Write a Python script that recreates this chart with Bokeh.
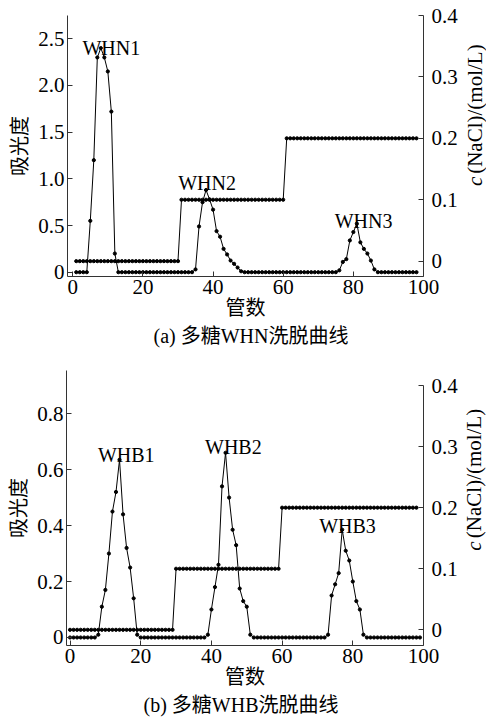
import math
from bokeh.plotting import figure
from bokeh.models import (Range1d, LinearAxis, FixedTicker, Title, ColumnDataSource,
                          PrintfTickFormatter)
from bokeh.layouts import column, row
from bokeh.embed import file_html
from bokeh.resources import INLINE
from bokeh.core.properties import value

# ---------------- data: (a) WHN ----------------
tubes_a = list(range(1, 99))
abs_whn = [
    0, 0, 0, 0,
    0.55, 1.20, 2.30, 2.40, 2.30, 2.15, 1.72, 0.20,
    0, 0, 0, 0, 0, 0, 0, 0, 0, 0, 0, 0, 0, 0, 0, 0, 0, 0, 0, 0, 0, 0,
    0.03, 0.49, 0.75, 0.88, 0.78, 0.67, 0.44, 0.38, 0.25, 0.19, 0.125, 0.09, 0.05, 0.01,
    0, 0, 0, 0, 0, 0, 0, 0, 0, 0, 0, 0, 0, 0, 0, 0, 0, 0, 0, 0, 0, 0, 0, 0, 0, 0, 0,
    0.02, 0.11, 0.14, 0.34, 0.43, 0.52, 0.32, 0.25, 0.20, 0.125, 0.03,
    0, 0, 0, 0, 0, 0, 0, 0, 0, 0, 0, 0,
]
nacl_a = [0.0] * 30 + [0.1] * 30 + [0.2] * 38
peaks_a = ["WHN1", "WHN2", "WHN3"]
peaks_a_tube = [11.0, 38.3, 82.9]
peaks_a_abs = [2.405, 0.953, 0.553]
abs_ticks_a = [0, 0.5, 1.0, 1.5, 2.0, 2.5]

# ---------------- data: (b) WHB ----------------
tubes_b = list(range(0, 100))
abs_whb = [
    0, 0, 0, 0, 0, 0, 0, 0,
    0.01, 0.11, 0.17, 0.30, 0.45, 0.52, 0.635, 0.44, 0.32, 0.25, 0.14, 0.01,
    0, 0, 0, 0, 0, 0, 0, 0, 0, 0, 0, 0, 0, 0, 0, 0, 0, 0, 0,
    0.01, 0.10, 0.18, 0.26, 0.54, 0.66, 0.50, 0.385, 0.33, 0.175, 0.13, 0.11, 0.01,
    0, 0, 0, 0, 0, 0, 0, 0, 0, 0, 0, 0, 0, 0, 0, 0, 0, 0, 0, 0, 0,
    0.01, 0.15, 0.19, 0.23, 0.385, 0.31, 0.275, 0.20, 0.13, 0.10, 0.01,
    0, 0, 0, 0, 0, 0, 0, 0, 0, 0, 0, 0, 0, 0, 0, 0,
]
tubes_b_nacl = list(range(0, 99))
nacl_b = [0.0] * 30 + [0.1] * 30 + [0.2] * 39
peaks_b = ["WHB1", "WHB2", "WHB3"]
peaks_b_tube = [15.9, 46.2, 78.5]
peaks_b_abs = [0.6525, 0.68, 0.40]
abs_ticks_b = [0, 0.2, 0.4, 0.6, 0.8]

x_ticks = [0, 20, 40, 60, 80, 100]
nacl_ticks = [0, 0.1, 0.2, 0.3, 0.4]
nacl_label_parts = ["c", "(NaCl)/(mol/L)"]
nacl_label_styles = ["italic", "normal"]

SERIF = "Liberation Serif"
MIXED = "'Liberation Serif', 'Noto Sans CJK SC'"
AX_COLOR = "#333333"
RLABEL_SIZE = 21
MAIN_W = 460
SIDE_W = 486 - MAIN_W


def style_axis(ax):
    ax.axis_line_color = AX_COLOR
    ax.axis_line_width = 1
    ax.major_tick_line_color = AX_COLOR
    ax.major_tick_in = 5
    ax.major_tick_out = 0
    ax.minor_tick_line_color = None
    ax.major_label_text_font = SERIF
    ax.major_label_text_font_size = "21px"
    ax.major_label_text_color = "black"
    ax.axis_label_text_color = "black"
    ax.axis_label_text_font_style = "normal"


def make_side(height, bottom_from_top, center_x):
    """Narrow strip carrying the rotated right-hand axis title."""
    s = figure(width=SIDE_W, height=height, x_range=Range1d(0, SIDE_W),
               y_range=Range1d(0, height), output_backend="svg", toolbar_location=None,
               x_axis_location=None, y_axis_location=None,
               min_border_left=0, min_border_right=0, min_border_top=0, min_border_bottom=0)
    s.outline_line_color = None
    s.grid.visible = False
    s.background_fill_color = "white"
    s.border_fill_color = "white"
    y0 = height - bottom_from_top
    gap = (0.444 + 0.35) * RLABEL_SIZE  # italic "c" plus a space
    starts = [y0, y0 + gap]
    for part, style, ys in zip(nacl_label_parts, nacl_label_styles, starts):
        s.text(x=[center_x], y=[ys], text=[part], angle=math.pi / 2,
               text_font=value(SERIF), text_font_size=value(f"{RLABEL_SIZE}px"),
               text_font_style=style, text_align="left", text_baseline="middle",
               text_color="black")
    return s


def make_panel(tubes, absorb, tubes_n, nacl, xr, yr, nr, abs_ticks, labels, lx, ly,
               caption, cap_offset, height, mb_left, frame_right, mb_top, mb_bottom,
               nacl_bounds):
    p = figure(width=MAIN_W, height=height, x_range=Range1d(*xr), y_range=Range1d(*yr),
               output_backend="svg", toolbar_location=None,
               min_border_left=mb_left, min_border_right=MAIN_W - frame_right,
               min_border_top=mb_top, min_border_bottom=mb_bottom)
    p.outline_line_color = None
    p.grid.visible = False
    p.background_fill_color = "white"
    p.border_fill_color = "white"
    p.extra_y_ranges = {"nacl": Range1d(*nr)}

    # x axis
    xa = p.xaxis[0]
    style_axis(xa)
    xa.ticker = FixedTicker(ticks=x_ticks)
    xa.major_label_standoff = 3
    xa.axis_label = "管数"
    xa.axis_label_text_font = MIXED
    xa.axis_label_text_font_size = "20px"
    xa.axis_label_standoff = 0

    # left axis
    ya = p.yaxis[0]
    style_axis(ya)
    ya.ticker = FixedTicker(ticks=abs_ticks)
    ya.formatter = PrintfTickFormatter(format="%.1f")
    ya.major_label_overrides = {0: "0"}
    ya.major_label_standoff = 3
    ya.axis_label = "吸光度"
    ya.axis_label_text_font = MIXED
    ya.axis_label_text_font_size = "20px"
    ya.axis_label_standoff = 4

    # right axis
    ra = LinearAxis(y_range_name="nacl", ticker=FixedTicker(ticks=nacl_ticks))
    style_axis(ra)
    ra.formatter = PrintfTickFormatter(format="%.1f")
    ra.major_label_overrides = {0: "0"}
    ra.major_label_standoff = 8
    if nacl_bounds is not None:
        ra.bounds = nacl_bounds
    p.add_layout(ra, "right")

    # NaCl gradient
    p.line(tubes_n, nacl, y_range_name="nacl", line_color="black", line_width=1)
    p.scatter(tubes_n, nacl, y_range_name="nacl", size=3.2, fill_color="black",
              line_color="black")

    # absorbance
    p.line(tubes, absorb, line_color="black", line_width=1)
    p.scatter(tubes, absorb, size=3.2, fill_color="black", line_color="black")

    src = ColumnDataSource(dict(x=lx, y=ly, t=labels))
    p.text(x="x", y="y", text="t", source=src, text_font=value(SERIF),
           text_font_size=value("20px"), text_align="center",
           text_baseline="alphabetic", text_color="black")

    cap = Title(text=caption, align="left", offset=cap_offset, standoff=2,
                text_font=MIXED, text_font_size="20px", text_font_style="normal",
                text_color="black")
    p.add_layout(cap, "below")
    return p


p1 = make_panel(tubes_a, abs_whn, tubes_a, nacl_a, (-1.5, 100), (-0.046, 2.749), (-0.025, 0.4),
                abs_ticks_a, peaks_a, peaks_a_tube, peaks_a_abs,
                "(a) 多糖WHN洗脱曲线", 86, 355, 67, 423, 15, 79, None)
s1 = make_side(355, 232, 14.0)
p2 = make_panel(tubes_b, abs_whb, tubes_b_nacl, nacl_b, (-1, 100), (-0.0286, 0.954),
                (-0.0257, 0.4246), abs_ticks_b, peaks_b, peaks_b_tube, peaks_b_abs,
                "(b)  多糖WHB洗脱曲线", 77, 363, 66, 424, 15, 73, (-0.0257, 0.4))
s2 = make_side(363, 238, 13.0)

layout = column(row(p1, s1, spacing=0), row(p2, s2, spacing=0), spacing=0)
open("out.html", "w").write(file_html(layout, INLINE))
